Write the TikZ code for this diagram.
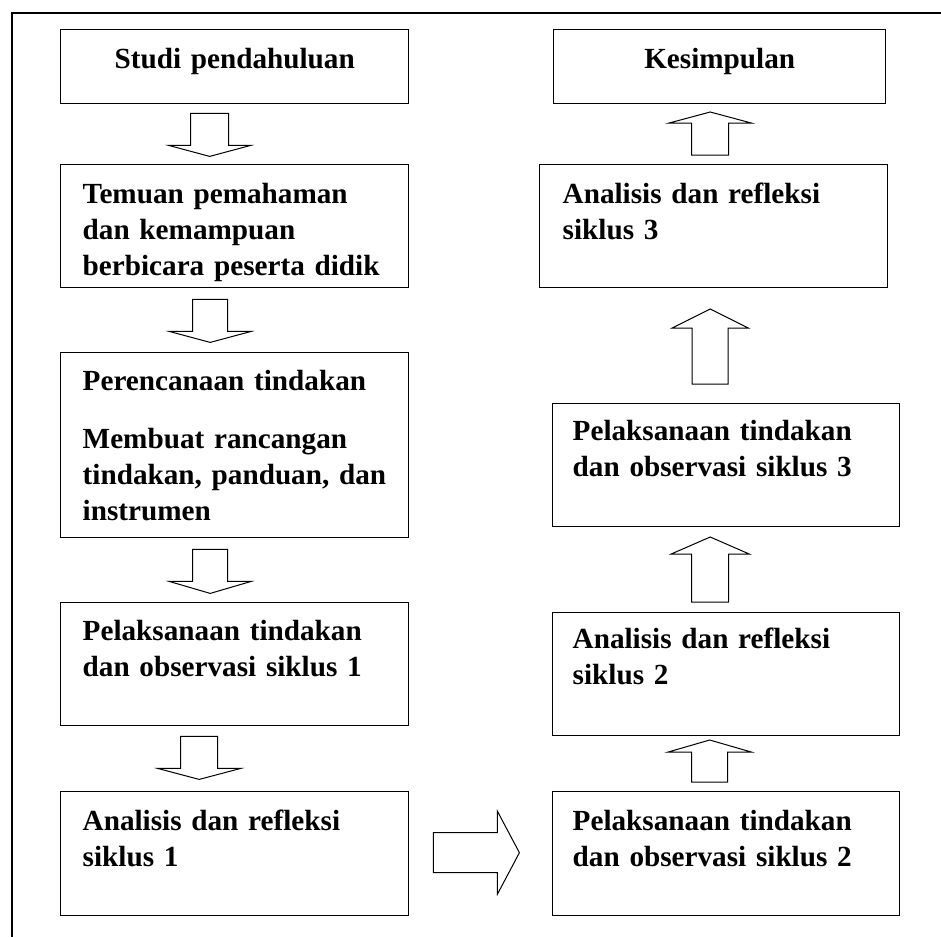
\documentclass[tikz,border=0pt]{standalone}
\usepackage{fontspec}
\setmainfont{Liberation Serif}
\usetikzlibrary{calc}

\begin{document}
\begin{tikzpicture}[x=0.5pt, y=-0.5pt,
	kotak/.style={draw, line width=0.7pt, anchor=north west, inner ysep=0pt, inner xsep=11pt, text width=152pt, align=left, font=\bfseries\fontsize{14.6}{18}\selectfont},
	tinggi/.style 2 args={text height=#1, text depth=#2},
	pics/panah/.style n args={4}{code={\draw[line width=0.5pt, fill=white] (0,-#4) -- (#1,-#4) -- (#1,-#3) -- (#1+#2,0) -- (#1,#3) -- (#1,#4) -- (0,#4) -- cycle;}}]
	\useasboundingbox (0,0) rectangle (941,937);
	\draw[line width=1pt] (941,13) -- (12,13) -- (12,937);

	\node[kotak, tinggi={19.5pt}{17.5pt}, align=center] (studi) at (60,29) {Studi pendahuluan};
	\node[kotak, tinggi={19.5pt}{42pt}] (temuan) at (60,164) {Temuan pemahaman\\ dan kemampuan\\ berbicara peserta didik};
	\node[kotak, tinggi={19pt}{73.5pt}] (rencana) at (60,352) {Perencanaan tindakan\\[11pt] Membuat rancangan\\ tindakan, panduan, dan\\ instrumen};
	\node[kotak, tinggi={19pt}{42.5pt}] (laksana1) at (60,602) {Pelaksanaan tindakan\\ dan observasi siklus 1};
	\node[kotak, tinggi={19.5pt}{42.5pt}] (refleksi1) at (60,791) {Analisis dan refleksi\\ siklus 1};

	\node[kotak, tinggi={19.5pt}{42.5pt}, inner xsep=10pt, text width=153.5pt] (laksana2) at (552,791) {Pelaksanaan tindakan\\ dan observasi siklus 2};
	\node[kotak, tinggi={18pt}{43.5pt}, inner xsep=10pt, text width=153.5pt] (refleksi2) at (552,612) {Analisis dan refleksi\\ siklus 2};
	\node[kotak, tinggi={18.5pt}{43pt}, inner xsep=10pt, text width=153.5pt] (laksana3) at (552,403) {Pelaksanaan tindakan\\ dan observasi siklus 3};
	\node[kotak, tinggi={19.5pt}{42pt}, inner xsep=11.5pt, text width=151pt] (refleksi3) at (539,164) {Analisis dan refleksi\\ siklus 3};
	\node[kotak, tinggi={19.5pt}{17.5pt}, text width=144pt, align=center] (simpulan) at (553,29) {Kesimpulan};

	\pic[rotate=-90] (p1) at ($(studi.south)+(-25,9)$) {panah={32}{11}{41}{19}};
	\pic[rotate=-90] (p2) at ($(temuan.south)+(-24.5,11)$) {panah={32}{11}{41}{17.5}};
	\pic[rotate=-90] (p3) at ($(rencana.south)+(-24.5,11)$) {panah={32}{12}{41}{17.5}};
	\pic[rotate=-90] (p4) at ($(laksana1.south)+(-35.5,10)$) {panah={32}{11}{41.5}{18.5}};
	\pic (p5) at ($(refleksi1.east)+(24,-1)$) {panah={64}{22}{41.5}{20}};
	\pic[rotate=90] (p6) at ($(laksana2.north)+(-16.5,-9)$) {panah={30}{12}{41.5}{18}};
	\pic[rotate=90] (p7) at ($(refleksi2.north)+(-16,-10)$) {panah={48}{17}{39}{18.5}};
	\pic[rotate=90] (p8) at ($(laksana3.north)+(-16,-19)$) {panah={56}{19}{38}{18}};
	\pic[rotate=90] (p9) at ($(refleksi3.north)+(-3.5,-9)$) {panah={32}{11}{41}{18.5}};
\end{tikzpicture}
\end{document}
